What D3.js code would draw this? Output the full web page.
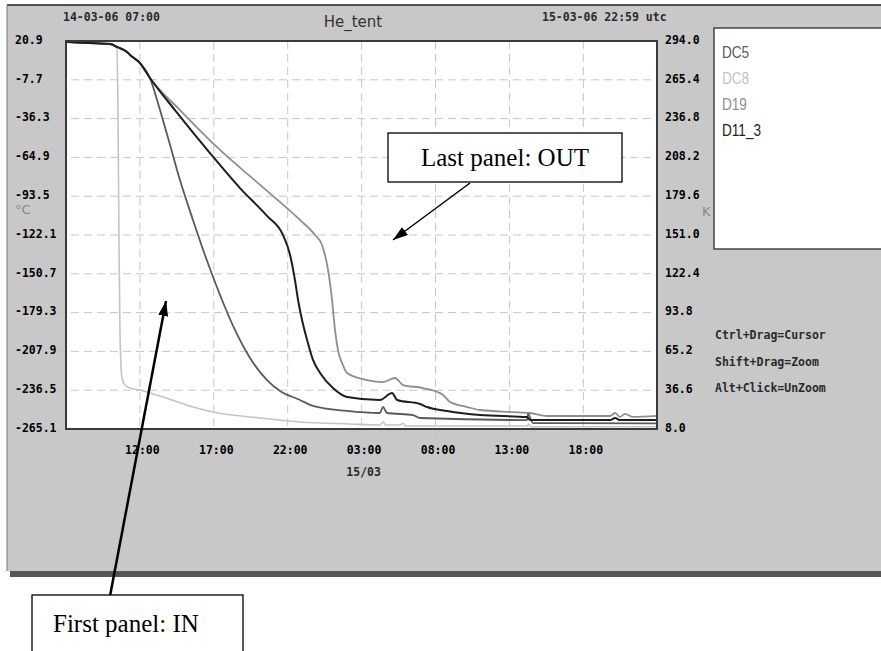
<!DOCTYPE html>
<html>
<head>
<meta charset="utf-8">
<title>He_tent</title>
<script src="https://cdn.jsdelivr.net/npm/d3@7"></script>
<style>
body { margin: 0; background: #fff; }
svg { display: block; }
.mono { font-family: "DejaVu Sans Mono", monospace; font-size: 11.5px; font-weight: bold; fill: #2b2b2b; }
.note { font-family: "Liberation Serif", "Times New Roman", serif; font-size: 25px; fill: #000; }
</style>
</head>
<body>
<div id="chart"></div>
<script>
// recording window (utc)
var startDate = new Date(Date.UTC(2006, 2, 14, 7, 0));
var endDate = new Date(Date.UTC(2006, 2, 15, 22, 59));

var tickTimes = ["2006-03-14T12:00Z", "2006-03-14T17:00Z", "2006-03-14T22:00Z",
		 "2006-03-15T03:00Z", "2006-03-15T08:00Z", "2006-03-15T13:00Z",
		 "2006-03-15T18:00Z"];
var celsiusTicks = [20.9, -7.7, -36.3, -64.9, -93.5, -122.1, -150.7, -179.3, -207.9, -236.5, -265.1];
var kelvinTicks = [294.0, 265.4, 236.8, 208.2, 179.6, 151.0, 122.4, 93.8, 65.2, 36.6, 8.0];
var helpLines = ["Ctrl+Drag=Cursor", "Shift+Drag=Zoom", "Alt+Click=UnZoom"];

// [hours since start, deg C]
var dc5 = [[0, 20.2], [1.6, 19.4], [3.0, 18.7], [3.45, 16.5], [4.13, 12.8], [4.33, 10.6], [5.0, 4.7],
	   [5.68, -6.4], [6.36, -30.0], [7.04, -55.8], [7.71, -81.6], [8.59, -111.0], [9.40, -136.8],
	   [10.42, -166.3], [11.43, -192.1], [12.45, -212.8], [13.60, -229.0], [14.48, -237.1],
	   [15.83, -243.7], [16.71, -248.1], [19.01, -251.8], [21.24, -253.3], [21.45, -248.9],
	   [21.72, -253.3], [23.48, -254.8], [23.95, -257.0], [31.19, -258.5], [31.26, -254.0],
	   [31.60, -260.7], [39.98, -261.0]];
var dc8 = [[0, 20.2], [1.6, 19.4], [3.0, 18.7], [3.45, 15.7], [3.52, -37.0], [3.59, -133.0],
	   [3.65, -192.0], [3.72, -218.0], [3.79, -227.5], [3.99, -232.7], [4.33, -234.9],
	   [5.01, -236.4], [6.36, -240.8], [8.59, -248.9], [9.95, -252.6], [13.13, -257.0],
	   [15.83, -259.9], [19.22, -261.4], [21.24, -262.1], [21.45, -260.0], [21.65, -262.2],
	   [22.60, -262.2], [22.80, -260.9], [23.0, -262.9], [31.19, -262.9], [31.30, -261.5],
	   [31.45, -263.4], [39.98, -263.4]];
var d19 = [[0, 20.2], [1.6, 19.4], [3.0, 18.7], [3.45, 16.5], [4.13, 12.8], [4.33, 10.6], [5.0, 4.7],
	   [5.68, -6.4], [7.71, -30.0], [10.42, -59.4], [13.13, -85.2], [15.83, -111.0], [16.85, -122.1],
	   [17.32, -129.5], [17.73, -147.9], [18.00, -170.0], [18.20, -192.1], [18.40, -206.9],
	   [18.74, -218.0], [19.01, -223.8], [20.37, -229.0], [21.45, -230.5], [22.26, -227.5],
	   [22.80, -232.7], [24.15, -234.9], [25.51, -240.0], [25.98, -245.2], [27.13, -248.9],
	   [28.01, -251.1], [30.24, -252.6], [31.39, -253.3], [32.54, -255.5], [36.81, -255.5],
	   [37.15, -253.3], [37.48, -256.2], [37.82, -254.0], [38.36, -256.2], [39.98, -255.5]];
var d11_3 = [[0, 20.2], [1.6, 19.4], [3.0, 18.7], [3.45, 16.5], [4.13, 12.8], [4.33, 10.6], [5.0, 4.7],
	     [5.68, -6.4], [7.37, -30.0], [9.74, -61.7], [11.77, -87.5], [13.60, -108.0], [14.68, -122.1],
	     [15.16, -136.8], [15.49, -155.3], [15.70, -170.0], [15.97, -184.8], [16.31, -199.5],
	     [16.71, -214.2], [17.19, -223.8], [18.06, -234.9], [19.01, -241.5], [21.24, -243.7],
	     [22.06, -238.6], [22.40, -243.7], [23.95, -246.7], [24.43, -248.9], [25.78, -251.8],
	     [28.01, -254.8], [31.19, -256.3], [31.39, -258.5], [36.81, -258.5], [37.15, -257.0],
	     [37.48, -258.5], [39.98, -258.5]];

var seriesNames = ["DC5", "DC8", "D19", "D11_3"];
var seriesData = [dc5, dc8, d19, d11_3];
var seriesColors = ["#5a5a5a", "#c4c4c4", "#8e8e8e", "#1e1e1e"];
var seriesWidths = [1.8, 1.6, 1.8, 2];
var drawOrder = [1, 2, 0, 3];

var WIDTH = 881, HEIGHT = 651;
var plot = {left: 66, top: 41, right: 657, bottom: 429};

var svg = d3.select("#chart").append("svg")
	.attr("width", WIDTH)
	.attr("height", HEIGHT);

var x = d3.scaleUtc().domain([startDate, endDate]).range([plot.left, plot.right]);
var yC = d3.scaleLinear().domain([celsiusTicks[10], celsiusTicks[0]]).range([plot.bottom, plot.top]);
var yK = d3.scaleLinear().domain([kelvinTicks[10], kelvinTicks[0]]).range([plot.bottom, plot.top]);
var tickDates = tickTimes.map(function(s) { return new Date(s); });

function hoursToDate(h) {
    return new Date(startDate.getTime() + h * 3600e3);
}

// grey window with its shadow
svg.append("rect").attr("x", 10).attr("y", 570).attr("width", WIDTH - 10).attr("height", 7)
	.style("fill", "#565656");
svg.append("rect").attr("x", 7).attr("y", 5).attr("width", WIDTH - 7).attr("height", 566)
	.style("fill", "#c8c8c8");
svg.append("line").attr("x1", 7).attr("x2", WIDTH).attr("y1", 5).attr("y2", 5)
	.style("stroke", "#222").style("stroke-width", 1.5);
svg.append("line").attr("x1", 7).attr("x2", 7).attr("y1", 5).attr("y2", 571)
	.style("stroke", "#777").style("stroke-width", 1);

// plot background
svg.append("rect").attr("x", plot.left).attr("y", plot.top)
	.attr("width", plot.right - plot.left).attr("height", plot.bottom - plot.top)
	.style("fill", "#fff");

// dashed grid, running a little past the frame like tick marks
var grid = svg.append("g").attr("class", "grid");
grid.selectAll(".vgrid").data(tickDates).enter().append("line")
	.attr("x1", function(d) { return x(d); }).attr("x2", function(d) { return x(d); })
	.attr("y1", plot.top).attr("y2", plot.bottom + 8);
grid.selectAll(".hgrid").data(celsiusTicks).enter().append("line")
	.attr("x1", plot.left - 8).attr("x2", plot.right)
	.attr("y1", function(d) { return yC(d); }).attr("y2", function(d) { return yC(d); });
grid.selectAll("line")
	.style("stroke", "#c6c6c6").style("stroke-width", 1).style("stroke-dasharray", "8,5");

// axes
var xAxis = d3.axisBottom(x).tickValues(tickDates).tickSize(0)
	.tickFormat(d3.utcFormat("%H:%M"));
var gx = svg.append("g").attr("class", "mono").attr("transform", "translate(0," + plot.bottom + ")")
	.call(xAxis);
gx.selectAll("text").attr("y", 25).attr("dy", null).attr("dx", 2);

// date change under the first tick of the new day
var dayTick = tickDates.filter(function(d) { return d.getUTCHours() < 5; })[0];
svg.append("text").attr("class", "mono").attr("text-anchor", "middle")
	.attr("x", x(dayTick) + 2).attr("y", plot.bottom + 47)
	.text(d3.utcFormat("%d/%m")(dayTick));

var yAxisC = d3.axisLeft(yC).tickValues(celsiusTicks).tickSize(0)
	.tickFormat(function(d) { return d.toFixed(1); });
var gyc = svg.append("g").attr("class", "mono").attr("transform", "translate(" + plot.left + ",0)")
	.call(yAxisC);
gyc.selectAll("text").attr("x", 15 - plot.left).attr("text-anchor", "start").attr("dy", "0.2em");

var yAxisK = d3.axisRight(yK).tickValues(kelvinTicks).tickSize(0)
	.tickFormat(function(d) { return d.toFixed(1); });
var gyk = svg.append("g").attr("class", "mono").attr("transform", "translate(" + plot.right + ",0)")
	.call(yAxisK);
gyk.selectAll("text").attr("x", 8).attr("dy", "0.2em");

svg.selectAll(".domain").remove();
svg.selectAll(".mono").attr("font-family", null).attr("font-size", null);

svg.append("text").attr("x", 15).attr("y", 214)
	.style("font-family", "DejaVu Sans").style("font-size", "13px").style("fill", "#8a8a8a")
	.text("\u00b0C");

// header
var fmt = d3.utcFormat("%d-%m-%y %H:%M");
svg.append("text").attr("class", "mono").attr("x", 63).attr("y", 21).text(fmt(startDate));
svg.append("text").attr("class", "mono").attr("x", 542).attr("y", 21).text(fmt(endDate) + " utc");
svg.append("text").attr("x", 353).attr("y", 27).attr("text-anchor", "middle")
	.style("font-family", "DejaVu Sans").style("font-size", "15px").style("fill", "#333")
	.text("He_tent");

// curves
svg.append("clipPath").attr("id", "plotclip").append("rect")
	.attr("x", plot.left).attr("y", plot.top)
	.attr("width", plot.right - plot.left).attr("height", plot.bottom - plot.top);

var line = d3.line()
	.curve(d3.curveMonotoneX)
	.x(function(d) { return x(hoursToDate(d[0])); })
	.y(function(d) { return yC(d[1]); });

var curves = svg.append("g").attr("clip-path", "url(#plotclip)");
drawOrder.forEach(function(i) {
    curves.append("path")
	.datum(seriesData[i])
	.attr("d", line)
	.style("fill", "none")
	.style("stroke", seriesColors[i])
	.style("stroke-width", seriesWidths[i])
	.style("stroke-linejoin", "round");
});

// frame
svg.append("rect").attr("x", plot.left).attr("y", plot.top)
	.attr("width", plot.right - plot.left).attr("height", plot.bottom - plot.top)
	.style("fill", "none").style("stroke", "#3a3a3a").style("stroke-width", 2);

// legend panel
svg.append("rect").attr("x", 714).attr("y", 28).attr("width", WIDTH - 714 + 4).attr("height", 221)
	.style("fill", "#fff").style("stroke", "#444").style("stroke-width", 1.5);
svg.append("g").selectAll("text").data(seriesNames).enter().append("text")
	.attr("transform", function(d, i) { return "translate(722," + (58 + i * 26) + ") scale(0.8,1)"; })
	.style("font-family", "Liberation Sans, Arial, sans-serif").style("font-size", "17px")
	.style("fill", function(d, i) { return seriesColors[i]; })
	.text(function(d) { return d; });

svg.append("text").attr("x", 702).attr("y", 216)
	.style("font-family", "DejaVu Sans").style("font-size", "13px").style("fill", "#8a8a8a")
	.text("K");

svg.append("g").selectAll("text").data(helpLines).enter().append("text")
	.attr("class", "mono").attr("x", 715)
	.attr("y", function(d, i) { return 339 + i * 26.5; })
	.text(function(d) { return d; });

// annotations
svg.append("defs").append("marker")
	.attr("id", "head").attr("markerUnits", "userSpaceOnUse")
	.attr("markerWidth", 16).attr("markerHeight", 12)
	.attr("refX", 15).attr("refY", 5).attr("orient", "auto")
	.append("path").attr("d", "M0,0 L15,5 L0,10 Z").style("fill", "#000");

svg.append("line").attr("x1", 470).attr("y1", 183).attr("x2", 393).attr("y2", 240)
	.style("stroke", "#000").style("stroke-width", 1.5).attr("marker-end", "url(#head)");
svg.append("rect").attr("x", 388).attr("y", 133).attr("width", 234).attr("height", 49)
	.style("fill", "#fff").style("stroke", "#000").style("stroke-width", 1.3);
svg.append("text").attr("class", "note").attr("x", 505).attr("y", 166)
	.attr("text-anchor", "middle").text("Last panel: OUT");

svg.append("line").attr("x1", 110).attr("y1", 596).attr("x2", 166).attr("y2", 301)
	.style("stroke", "#000").style("stroke-width", 2.5).attr("marker-end", "url(#head)");
svg.append("rect").attr("x", 32).attr("y", 595).attr("width", 211).attr("height", 70)
	.style("fill", "#fff").style("stroke", "#000").style("stroke-width", 1.3);
svg.append("text").attr("class", "note").attr("x", 53).attr("y", 632).text("First panel: IN");
</script>
</body>
</html>
